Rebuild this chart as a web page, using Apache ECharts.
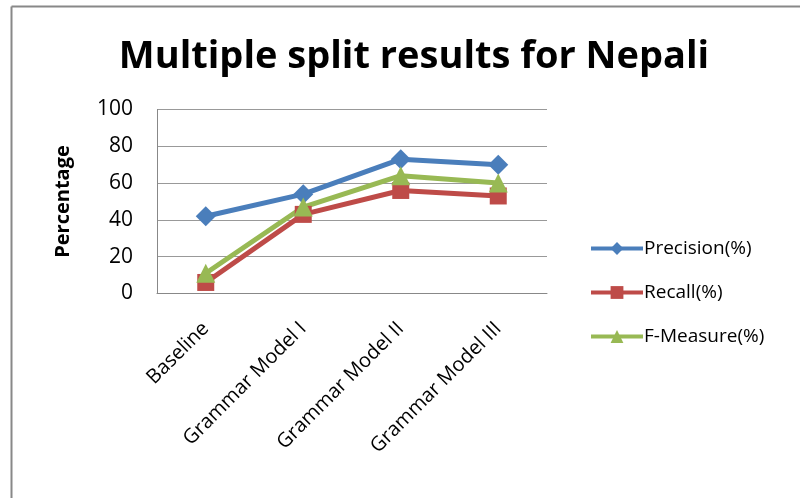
<!DOCTYPE html>
<html>
<head>
<meta charset="utf-8">
<script src="https://cdn.jsdelivr.net/npm/echarts@6/dist/echarts.min.js"></script>
<style>
  html, body { margin: 0; padding: 0; background: #fff; }
  #chart { width: 800px; height: 498px; }
</style>
</head>
<body>
<div id="chart"></div>
<script>
const categories = ['Baseline', 'Grammar Model I', 'Grammar Model II', 'Grammar Model III'];
const precision = [42, 54, 73, 70];
const recall = [6, 43, 56, 53];
const fMeasure = [11, 47, 64, 60];
const yTicks = [0, 20, 40, 60, 80, 100];

const chart = echarts.init(document.getElementById('chart'), null, { renderer: 'canvas' });

function lineSeries(name, data, color, symbol, size) {
  return {
    name: name,
    type: 'line',
    data: data,
    symbol: symbol,
    symbolSize: size,
    lineStyle: { color: color, width: 5 },
    itemStyle: { color: color },
    z: 3
  };
}

chart.setOption({
  animation: false,
  backgroundColor: '#fff',
  title: {
    text: 'Multiple split results for Nepali',
    left: 409,
    top: 33,
    textAlign: 'center',
    textStyle: { fontFamily: 'Open Sans', fontWeight: 'bold', fontSize: 38, color: '#000' }
  },
  graphic: [
    { type: 'line', shape: { x1: 11.5, y1: 6.5, x2: 800, y2: 6.5 }, style: { stroke: '#888', lineWidth: 2 } },
    { type: 'line', shape: { x1: 11.5, y1: 6.5, x2: 11.5, y2: 498 }, style: { stroke: '#888', lineWidth: 2 } }
  ],
  grid: { left: 157, top: 109.5, width: 390, height: 184, containLabel: false },
  legend: {
    orient: 'vertical',
    left: 584,
    top: 234,
    itemGap: 25,
    itemWidth: 52,
    itemHeight: 16,
    lineStyle: { width: 4 },
    textStyle: { fontFamily: 'Open Sans', fontSize: 19, color: '#000', padding: [0, 0, 0, -4] },
    data: ['Precision(%)', 'Recall(%)', 'F-Measure(%)']
  },
  xAxis: {
    type: 'category',
    data: categories,
    boundaryGap: true,
    axisLine: { lineStyle: { color: '#888', width: 1 } },
    axisTick: { show: false },
    axisLabel: {
      rotate: 45,
      margin: 32,
      fontFamily: 'Open Sans',
      fontSize: 20,
      color: '#000'
    }
  },
  yAxis: {
    type: 'value',
    min: 0,
    max: 100,
    interval: 20,
    name: 'Percentage',
    nameLocation: 'middle',
    nameGap: 84,
    nameTextStyle: { fontFamily: 'Open Sans', fontWeight: 'bold', fontSize: 20, color: '#000' },
    axisLine: { show: true, lineStyle: { color: '#888' } },
    axisTick: { show: false },
    axisLabel: {
      margin: 24,
      fontFamily: 'Open Sans',
      fontSize: 21,
      color: '#000',
      formatter: v => (yTicks.includes(v) ? String(v) : '')
    },
    splitLine: { lineStyle: { color: '#999', width: 1 } }
  },
  series: [
    lineSeries('Precision(%)', precision, '#4a7ebb', 'diamond', 20),
    lineSeries('Recall(%)', recall, '#be4b48', 'rect', 17),
    lineSeries('F-Measure(%)', fMeasure, '#98b954', 'triangle', 19)
  ]
});
</script>
</body>
</html>
